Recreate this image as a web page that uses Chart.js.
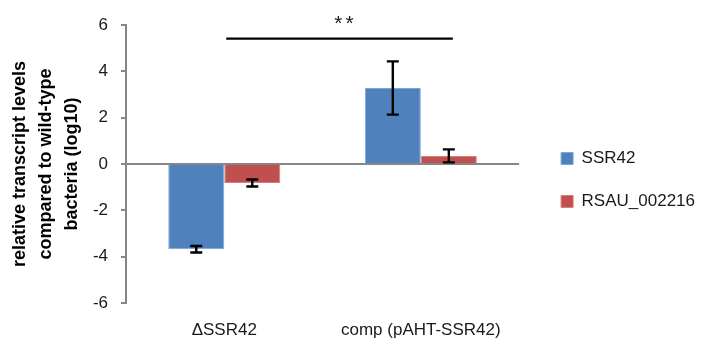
<!DOCTYPE html>
<html>
<head>
<meta charset="utf-8">
<script src="https://cdn.jsdelivr.net/npm/chart.js@4/dist/chart.umd.min.js"></script>
<style>
  html, body { margin: 0; padding: 0; background: #fff; }
  #wrap { width: 703px; height: 341px; }
</style>
</head>
<body>
<div id="wrap"><canvas id="myChart" width="703" height="341"></canvas></div>
<script>
// datos
var categorias = ['\u0394SSR42', 'comp (pAHT-SSR42)'];
var ssr42 = [-3.68, 3.28];
var ssr42Err = [0.14, 1.15];
var rsau = [-0.82, 0.35];
var rsauErr = [0.15, 0.28];
var ticksY = [-6, -4, -2, 0, 2, 4, 6];
var signifY = 5.41;
var signifTxt = '**';

var fuente = "'Liberation Sans', Arial, sans-serif";

// barras de error, linea del cero y marca de significancia
var extras = {
  id: 'extras',
  afterLayout: function(chart){
    // separar un poco la leyenda del area de barras
    if (chart.legend) {
      chart.legend.left += 16;
      chart.legend.right += 16;
      chart.legend.top -= 3;
      chart.legend.bottom -= 3;
    }
  },
  beforeDatasetsDraw: function(chart){
    var ctx = chart.ctx, y = chart.scales.y, a = chart.chartArea;
    var y0 = y.getPixelForValue(0);
    ctx.save();
    ctx.strokeStyle = '#868686';
    ctx.lineWidth = 2;
    ctx.beginPath();
    ctx.moveTo(a.left, y0);
    ctx.lineTo(a.right, y0);
    ctx.stroke();
    ctx.restore();
  },
  afterDatasetsDraw: function(chart){
    var ctx = chart.ctx, y = chart.scales.y;
    var errores = [ssr42Err, rsauErr];
    ctx.save();
    ctx.strokeStyle = '#000';
    ctx.lineWidth = 2.4;
    chart.data.datasets.forEach(function(ds, i){
      var meta = chart.getDatasetMeta(i);
      meta.data.forEach(function(bar, j){
        var v = ds.data[j], e = errores[i][j];
        var yt = y.getPixelForValue(v + e), yb = y.getPixelForValue(v - e);
        var x = bar.x;
        ctx.beginPath();
        ctx.moveTo(x, yt); ctx.lineTo(x, yb);
        ctx.moveTo(x - 6, yt); ctx.lineTo(x + 6, yt);
        ctx.moveTo(x - 6, yb); ctx.lineTo(x + 6, yb);
        ctx.stroke();
      });
    });
    // linea de significancia entre barras
    var b1 = chart.getDatasetMeta(1).data[0];
    var b2 = chart.getDatasetMeta(0).data[1];
    var ys = y.getPixelForValue(signifY);
    var x1 = b1.x - 26, x2 = b2.x + 60;
    ctx.lineWidth = 2.2;
    ctx.beginPath();
    ctx.moveTo(x1, ys);
    ctx.lineTo(x2, ys);
    ctx.stroke();
    ctx.fillStyle = '#222';
    ctx.font = '21px ' + fuente;
    ctx.letterSpacing = '3px';
    ctx.textAlign = 'center';
    ctx.textBaseline = 'alphabetic';
    ctx.fillText(signifTxt, (x1 + x2) / 2 + 6, ys - 9);
    ctx.restore();
  }
};

var datosChart = {
  labels: categorias,
  datasets: [{
    label: 'SSR42',
    backgroundColor: 'rgb(79, 129, 189)',
    borderColor: 'rgb(125, 165, 215)',
    borderWidth: 1,
    data: ssr42
  }, {
    label: 'RSAU_002216',
    backgroundColor: 'rgb(192, 80, 77)',
    borderColor: 'rgb(215, 125, 122)',
    borderWidth: 1,
    data: rsau
  }]
};

var newChar = document.getElementById('myChart');

var charGrafico = new Chart(newChar, {
  type: 'bar',
  data: datosChart,
  plugins: [extras],
  options: {
    responsive: false,
    animation: false,
    layout: { padding: { top: 25, right: 14, bottom: 0, left: 0 } },
    datasets: { bar: { categoryPercentage: 0.57, barPercentage: 1 } },
    plugins: {
      tooltip: { enabled: false },
      legend: {
        position: 'right',
        align: 'center',
        labels: {
          boxWidth: 12,
          boxHeight: 12,
          padding: 26,
          color: '#1a1a1a',
          font: { family: fuente, size: 17 }
        }
      }
    },
    scales: {
      x: {
        afterFit: function(axis){ axis.height = 38; },
        grid: { display: false },
        border: { display: false },
        ticks: { color: '#1a1a1a', font: { family: fuente, size: 17 }, padding: 9 }
      },
      y: {
        min: -6,
        max: 6,
        afterFit: function(axis){ axis.width = 126; },
        afterBuildTicks: function(axis){
          axis.ticks = ticksY.map(function(v){ return { value: v }; });
        },
        grid: { drawOnChartArea: false, drawTicks: true, tickLength: 5, color: '#868686', lineWidth: 2 },
        border: { display: true, color: '#868686', width: 2 },
        ticks: { color: '#1a1a1a', font: { family: fuente, size: 17 }, padding: 13 },
        title: {
          display: true,
          text: ['relative transcript levels', 'compared to wild-type', 'bacteria (log10)'],
          color: '#000',
          font: { family: fuente, size: 18, weight: 'bold', lineHeight: 1.45 },
          padding: { top: 7, bottom: 4 }
        }
      }
    }
  }
});
</script>
</body>
</html>
